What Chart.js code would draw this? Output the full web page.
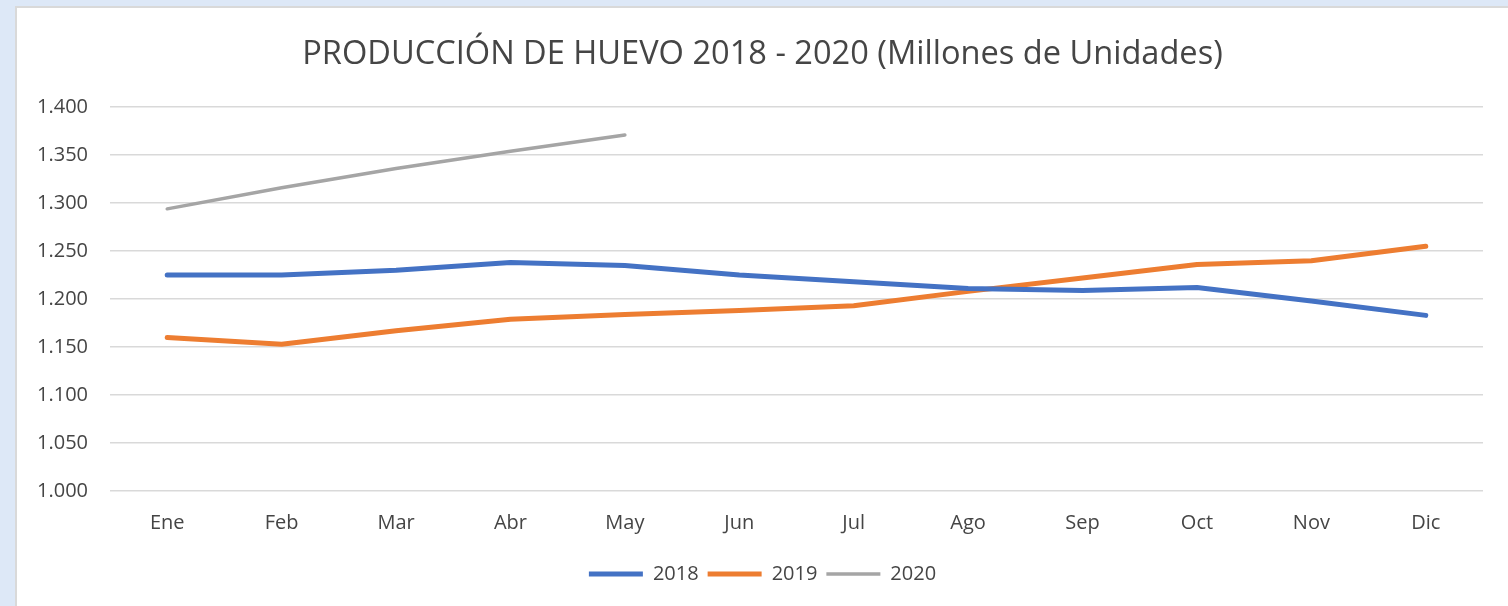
<!DOCTYPE html>
<html>
<head>
<meta charset="utf-8">
<script src="https://cdn.jsdelivr.net/npm/chart.js@4.4.1/dist/chart.umd.min.js"></script>
<style>
  html, body { margin: 0; padding: 0; background: #dde8f7; overflow: hidden; }
  #panel {
    position: absolute; left: 15px; top: 6px; width: 1500px; height: 610px;
    background: #fff; border-top: 2px solid #d9d9d9; border-left: 2px solid #d9d9d9;
  }
  #wrap { position: absolute; left: 0; top: 0; width: 1491px; height: 598px; }
</style>
</head>
<body>
<div id="panel"><div id="wrap"><canvas id="myChart"></canvas></div></div>
<script>
// meses y producción mensual (millones de unidades)
const meses = ['Ene', 'Feb', 'Mar', 'Abr', 'May', 'Jun', 'Jul', 'Ago', 'Sep', 'Oct', 'Nov', 'Dic'];
const prod2018 = [1225, 1225, 1230, 1238, 1235, 1225, 1218, 1211, 1209, 1212, 1198, 1183];
const prod2019 = [1160, 1153, 1167, 1179, 1184, 1188, 1193, 1208, 1222, 1236, 1240, 1255];
const prod2020 = [1294, 1316, 1336, 1354, 1371];
const yMin = 1000, yMax = 1400, yStep = 50;

const gris = '#454545';
const fuente = { family: "'Open Sans', sans-serif", size: 20 };

// 1400 -> "1.400"
const formato = (v) => String(v).replace(/\B(?=(\d{3})+(?!\d))/g, '.');

const serie = (label, data, color, width) => ({
  label: label,
  data: data,
  borderColor: color,
  backgroundColor: color,
  borderWidth: width,
  borderCapStyle: 'round',
  borderJoinStyle: 'round',
  pointRadius: 0,
  pointHoverRadius: 0,
  tension: 0,
  fill: false,
});

var ctx = document.getElementById('myChart').getContext('2d');
new Chart(ctx, {
  type: 'line',
  data: {
    labels: meses,
    datasets: [
      serie('2018', prod2018, '#4472C4', 5),
      serie('2019', prod2019, '#ED7D31', 5),
      serie('2020', prod2020, '#A5A5A5', 3.5),
    ],
  },
  options: {
    responsive: true,
    maintainAspectRatio: false,
    animation: false,
    layout: { padding: { left: 0, right: 0, top: 0, bottom: 12 } },
    plugins: {
      title: {
        display: true,
        text: 'PRODUCCIÓN DE HUEVO 2018 - 2020 (Millones de Unidades)',
        color: gris,
        font: { family: fuente.family, size: 32.6, weight: 'normal' },
        padding: { top: 27, bottom: 33 },
      },
      legend: {
        position: 'bottom',
        labels: {
          color: gris,
          font: fuente,
          usePointStyle: true,
          pointStyle: 'line',
          pointStyleWidth: 54,
          boxHeight: 20,
          padding: 9,
        },
      },
      tooltip: { enabled: false },
    },
    scales: {
      x: {
        offset: true,
        grid: { display: false, drawTicks: false },
        border: { display: false },
        ticks: { color: gris, font: fuente, padding: 20, maxRotation: 0 },
      },
      y: {
        min: yMin,
        max: yMax,
        grid: { color: '#d9d9d9', lineWidth: 1.5, drawTicks: false },
        border: { display: false },
        ticks: { stepSize: yStep, color: gris, font: fuente, padding: 22, callback: formato },
        afterFit: (s) => { s.width = 93; },
      },
      // margen derecho vacío
      yDer: {
        position: 'right',
        grid: { display: false, drawTicks: false },
        border: { display: false },
        ticks: { display: false },
        afterFit: (s) => { s.width = 25; },
      },
    },
  },
});
</script>
</body>
</html>
